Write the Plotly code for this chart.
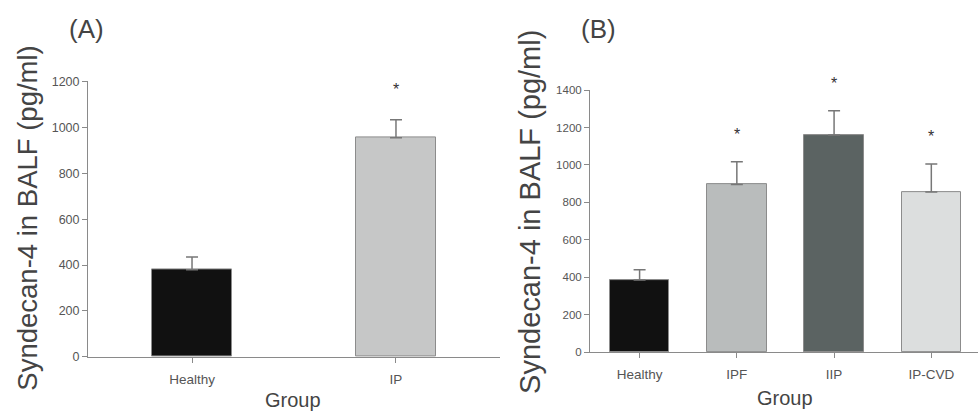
import plotly.graph_objects as go

# Panel A: healthy vs interstitial pneumonia
groups_a = ["Healthy", "IP"]
means_a = [380, 955]
sems_a = [55, 78]
colors_a = ["#111111", "#c6c7c7"]

# Panel B: healthy vs IP subtypes
groups_b = ["Healthy", "IPF", "IIP", "IP-CVD"]
means_b = [385, 895, 1160, 855]
sems_b = [55, 122, 130, 150]
colors_b = ["#111111", "#b9bcbc", "#5b6362", "#dcdede"]

# significance markers (True = marked with *)
sig_a = [False, True]
sig_b = [False, True, True, True]

W, H = 978, 418
AX = "#8a8a8a"
TXT = "#555555"
FONT = "Liberation Sans, Arial, sans-serif"

fig = go.Figure()

fig.add_trace(go.Bar(
    x=groups_a, y=means_a, width=0.39,
    marker=dict(color=colors_a, line=dict(color="#8c8c8c", width=1)),
    error_y=dict(type="data", array=sems_a, arrayminus=[0] * len(sems_a),
                 color="#777777", thickness=1.5, width=6),
    xaxis="x", yaxis="y", showlegend=False,
))
fig.add_trace(go.Bar(
    x=groups_b, y=means_b, width=0.61,
    marker=dict(color=colors_b, line=dict(color="#8c8c8c", width=1)),
    error_y=dict(type="data", array=sems_b, arrayminus=[0] * len(sems_b),
                 color="#777777", thickness=1.5, width=6),
    xaxis="x2", yaxis="y2", showlegend=False,
))

annotations = []
for g, m, s, flag in zip(groups_a, means_a, sems_a, sig_a):
    if flag:
        annotations.append(dict(x=g, y=m + s, xref="x", yref="y", text="*",
                                showarrow=False, yanchor="bottom", yshift=20,
                                font=dict(size=16, color="#333333", family=FONT)))
for g, m, s, flag in zip(groups_b, means_b, sems_b, sig_b):
    if flag:
        annotations.append(dict(x=g, y=m + s, xref="x2", yref="y2", text="*",
                                showarrow=False, yanchor="bottom", yshift=17,
                                font=dict(size=16, color="#333333", family=FONT)))

def px_x(p):
    return p / W

def px_y(p):
    return 1 - p / H

def label(text, x, y, size, angle=0):
    return dict(text=text, x=px_x(x), y=px_y(y), xref="paper", yref="paper",
                xanchor="center", yanchor="middle", showarrow=False,
                textangle=angle,
                font=dict(size=size, family=FONT, color="#444444"))

annotations += [
    label("(A)", 86, 23, 26),
    label("(B)", 598, 23, 26),
    label("Syndecan-4 in BALF (pg/ml)", 28, 219, 27.5, -90),
    label("Syndecan-4 in BALF (pg/ml)", 530, 212, 29, -90),
    label("Group", 293, 407, 20),
    label("Group", 785, 405, 20),
]

def y_axis(size):
    return dict(showline=True, linecolor=AX, linewidth=1, showgrid=False,
                zeroline=False, ticks="outside", tickcolor=AX, ticklen=5,
                tickfont=dict(family=FONT, size=size, color=TXT))

x_common = dict(showline=True, linecolor=AX, linewidth=1, showgrid=False,
                zeroline=False, ticks="outside", tickcolor=AX, ticklen=5,
                ticklabelstandoff=5,
                tickfont=dict(family=FONT, size=13.5, color=TXT))

fig.update_layout(
    width=W, height=H,
    margin=dict(l=0, r=0, t=0, b=0),
    paper_bgcolor="white", plot_bgcolor="white",
    bargap=0,
    xaxis=dict(domain=[px_x(88), px_x(500)], range=[-0.51, 1.51],
               anchor="y", **x_common),
    yaxis=dict(domain=[px_y(362), px_y(77)], range=[0, 1200], dtick=200,
               anchor="x", **y_axis(12.5)),
    xaxis2=dict(domain=[px_x(590), 1.0], range=[-0.51, 3.48],
                anchor="y2", **x_common),
    yaxis2=dict(domain=[px_y(357), px_y(86)], range=[0, 1400], dtick=200,
                anchor="x2", **y_axis(11.5)),
    annotations=annotations,
)

fig.write_html("out.html")
